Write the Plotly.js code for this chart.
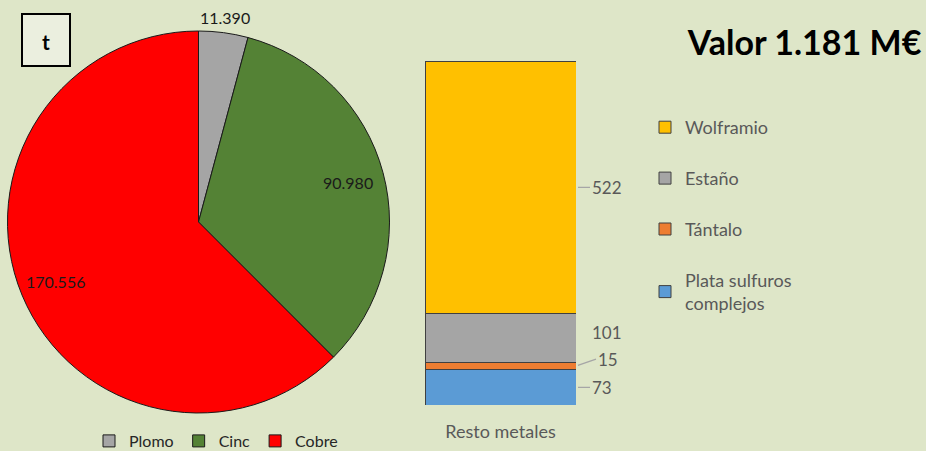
<!DOCTYPE html>
<html><head><meta charset="utf-8">
<script src="https://cdn.plot.ly/plotly-3.0.1.min.js"></script>
<style>html,body{margin:0;padding:0;background:#DEE6C8;}</style>
</head><body><div id="chart" style="width:926px;height:451px;"></div>
<script>
// Pie data (t)
const pieLabels = ['Plomo', 'Cinc', 'Cobre'];
const pieValues = [11390, 90980, 170556];
const pieColors = ['#A5A5A5', '#548235', '#FF0000'];

// Stacked bar: Resto metales
const barCategory = 'Resto metales';
const barNames = ['Plata sulfuros<br>complejos', 'Tántalo', 'Estaño', 'Wolframio'];
const barValues = [73, 15, 101, 522];
const barColors = ['#5B9BD5', '#ED7D31', '#A5A5A5', '#FFC000'];

const FONT = 'Lato, "Open Sans", sans-serif';
const GRAY = '#595959';
const W = 926, H = 451;

// pie geometry (pixels) used for the domain and for label placement
const pie = {x0: 7, x1: 390, y0: 31, y1: 413};
const pieLabelRadius = [1.08, 0.81, 0.81];

const traces = [];
traces.push({
  type: 'pie', labels: pieLabels, values: pieValues, sort: false,
  direction: 'clockwise', rotation: 0,
  marker: {colors: pieColors, line: {color: '#1a1a1a', width: 1}},
  textinfo: 'none',
  domain: {x: [pie.x0 / W, pie.x1 / W], y: [1 - pie.y1 / H, 1 - pie.y0 / H]},
  legend: 'legend', hoverinfo: 'label+value'
});
const rank = [4, 3, 2, 1];
barNames.forEach((n, i) => {
  traces.push({
    type: 'bar', x: [0], y: [barValues[i]], width: [1], name: n,
    marker: {color: barColors[i], line: {color: '#404040', width: 1}},
    xaxis: 'x', yaxis: 'y', legend: 'legend2', legendgroup: 'g' + i, legendrank: rank[i],
    hoverinfo: 'name+y'
  });
});

const annotations = [];
// pie value labels, placed at each slice's mid angle
const fmt = v => String(v).replace(/\B(?=(\d{3})+(?!\d))/g, '.');
const total = pieValues.reduce((a, b) => a + b, 0);
const cx = (pie.x0 + pie.x1) / 2, cy = (pie.y0 + pie.y1) / 2;
const R = Math.min(pie.x1 - pie.x0, pie.y1 - pie.y0) / 2;
let acc = 0;
pieValues.forEach((v, i) => {
  const a = (acc + v / 2) / total * 2 * Math.PI; acc += v;
  const r = R * pieLabelRadius[i];
  annotations.push({xref: 'paper', yref: 'paper', x: (cx + r * Math.sin(a)) / W, y: 1 - (cy - r * Math.cos(a)) / H,
    xanchor: 'center', yanchor: 'middle', showarrow: false, text: fmt(v),
    font: {family: FONT, size: 16, color: '#1a1a1a'}});
});

// value labels for bar segments
let cum = 0;
const offs = [
  {ax: 14, ay: 0, arrow: true},
  {ax: 20, ay: -7, arrow: true},
  {ax: 0, ay: -5, arrow: false},
  {ax: 14, ay: 0, arrow: true}
];
barValues.forEach((v, i) => {
  const mid = cum + v / 2; cum += v;
  const o = offs[i];
  if (o.arrow) {
    annotations.push({x: 0.5, y: mid, xref: 'x', yref: 'y', text: String(v),
      showarrow: true, arrowhead: 0, arrowwidth: 1.3, arrowcolor: '#A6A6A6', standoff: 2,
      ax: o.ax, ay: o.ay, xanchor: 'left', yanchor: 'middle',
      font: {family: FONT, size: 17, color: GRAY}});
  } else {
    annotations.push({x: 0.5, y: mid, xref: 'x', yref: 'y', text: String(v),
      showarrow: false, xanchor: 'left', yanchor: 'middle', xshift: 14, yshift: -o.ay,
      font: {family: FONT, size: 17, color: GRAY}});
  }
});
annotations.push({x: 46 / W, y: 1 - 41 / H, xref: 'paper', yref: 'paper', text: '<b>t</b>',
  xanchor: 'center', yanchor: 'middle',
  showarrow: false, font: {family: FONT, size: 21, color: '#000'}});

const layout = {
  width: W, height: H, margin: {l: 0, r: 0, t: 0, b: 0, autoexpand: false},
  paper_bgcolor: '#DEE6C8', plot_bgcolor: 'rgba(0,0,0,0)',
  separators: ',.',
  font: {family: FONT, color: GRAY},
  title: {text: '<b>Valor 1.181 M€</b>', x: 0.995, xanchor: 'right', y: 1 - 43 / H, yanchor: 'middle',
    font: {family: FONT, size: 34, color: '#000'}},
  xaxis: {domain: [425 / W, 576 / W], range: [-0.5, 0.5], tickvals: [0], ticktext: [barCategory],
    showgrid: false, zeroline: false, showline: false, ticks: '', fixedrange: true, automargin: false,
    tickfont: {family: FONT, size: 18, color: GRAY}, ticklabelstandoff: 14},
  yaxis: {domain: [1 - 405 / H, 1 - 61 / H], range: [0, 711], visible: false, fixedrange: true},
  barmode: 'stack', bargap: 0,
  legend: {orientation: 'h', x: 216 / W, xanchor: 'center', y: 1 - 441 / H, yanchor: 'middle',
    font: {family: FONT, size: 16, color: '#262626'}, bgcolor: 'rgba(0,0,0,0)', itemwidth: 30},
  legend2: {x: 645 / W, xanchor: 'left', y: 1 - 109 / H, yanchor: 'top', traceorder: 'grouped',
    tracegroupgap: 24.5, font: {family: FONT, size: 18, color: GRAY}, bgcolor: 'rgba(0,0,0,0)', itemwidth: 30},
  shapes: [{type: 'rect', xref: 'paper', yref: 'paper', x0: 22 / W, x1: 70 / W, y0: 1 - 66 / H, y1: 1 - 14 / H,
    fillcolor: '#EBEFDF', line: {color: '#000', width: 2}, layer: 'below'}],
  annotations: annotations,
  showlegend: true
};
Plotly.newPlot('chart', traces, layout, {displayModeBar: false, staticPlot: true});
</script></body></html>
